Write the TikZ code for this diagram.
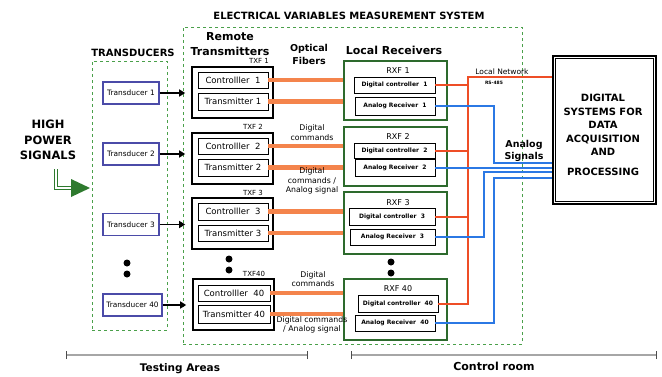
\documentclass[tikz,border=0pt]{standalone}
\usepackage{fontspec}
\setmainfont{DejaVu Sans}
\usetikzlibrary{arrows.meta}
\definecolor{fib}{HTML}{F4844C}
\definecolor{redl}{HTML}{EE4E26}
\definecolor{bluel}{HTML}{2B78E4}
\definecolor{rxg}{HTML}{2D6A2D}
\definecolor{dashg}{HTML}{4AA04A}
\definecolor{tdb}{HTML}{4B4BA8}
\definecolor{garr}{HTML}{2E7A2E}
\tikzset{
  dashbox/.style={draw=dashg, dashed, line width=0.7pt, inner sep=0pt},
  tdcbox/.style={draw=tdb, line width=1.2pt, inner sep=0pt, font=\fontsize{7.4}{8}\selectfont},
  txfbox/.style={draw, line width=1.6pt, inner sep=0pt},
  tinner/.style={draw, line width=0.6pt, inner sep=0pt, font=\fontsize{8.5}{9}\selectfont},
  rxfbox/.style={draw=rxg, line width=1.5pt, inner sep=0pt},
  rinner/.style={draw, line width=0.6pt, inner sep=0pt, font=\bfseries\fontsize{6}{7}\selectfont},
  fiber/.style={draw=fib, line width=4.5pt},
  redline/.style={draw=redl, line width=1.4pt},
  blueline/.style={draw=bluel, line width=1.4pt},
  tarrow/.style={draw, line width=1.4pt, -{Triangle[length=6pt,width=7pt]}, shorten >=6pt},
  lbl/.style={font=\fontsize{7}{8}\selectfont, inner sep=0pt},
  fl/.style={font=\fontsize{7.8}{9.5}\selectfont, align=center, inner sep=0pt},
  hd/.style={font=\bfseries\fontsize{11}{15}\selectfont, align=center, inner sep=0pt},
  barl/.style={draw=gray!70, line width=1.6pt},
  tickl/.style={draw=black!70, line width=0.8pt},
  dot/.style={fill=black}
}
\begin{document}
\begin{tikzpicture}[x=1pt,y=-1pt]
\useasboundingbox[fill=white] (0,0) rectangle (662,376);

% title
\node[font=\bfseries\fontsize{10}{12}\selectfont, inner sep=0pt] (title) at (349,16) {ELECTRICAL VARIABLES MEASUREMENT SYSTEM};

% dashed regions
\node[dashbox, minimum width=339, minimum height=317] (ems) at (352.5,185.5) {};
\node[dashbox, minimum width=75, minimum height=269] (tdbox) at (129.5,195.5) {};

% headings
\node[font=\bfseries\fontsize{10}{12}\selectfont, inner sep=0pt] (thd) at (133,53) {TRANSDUCERS};
\node[hd] (rthd) at (230,44) {Remote\\Transmitters};
\node[hd, font=\bfseries\fontsize{9.5}{13}\selectfont] (ofhd) at (309,54.5) {Optical\\Fibers};
\node[hd] (lrhd) at (394,50) {Local Receivers};
\node[hd, font=\bfseries\fontsize{11.5}{15.5}\selectfont] (hps) at (48,140) {HIGH\\POWER\\SIGNALS};

% transducers
\node[tdcbox, minimum width=56, minimum height=22] (td1) at (131,93) {Transducer 1};
\node[tdcbox, minimum width=56, minimum height=22] (td2) at (131,154) {Transducer 2};
\node[tdcbox, minimum width=56, minimum height=22] (td3) at (131,224.5) {Transducer 3};
\node[tdcbox, minimum width=59, minimum height=22] (td40) at (132.5,305) {Transducer 40};

% remote transmitters
\node[txfbox, minimum width=81, minimum height=51] (tx1) at (232.5,92.5) {};
\node[tinner, minimum width=70, minimum height=16] (c1) at (233,80) {Controlller\ \ 1};
\node[tinner, minimum width=70, minimum height=17] (t1) at (233,101.5) {Transmitter 1};
\node[lbl] (tl1) at (259,61) {TXF 1};

\node[txfbox, minimum width=81, minimum height=51] (tx2) at (232.5,158.5) {};
\node[tinner, minimum width=70, minimum height=16] (c2) at (233,146) {Controlller\ \ 2};
\node[tinner, minimum width=70, minimum height=17] (t2) at (233,167.5) {Transmitter 2};
\node[lbl] (tl2) at (253,127) {TXF 2};

\node[txfbox, minimum width=81, minimum height=51] (tx3) at (232.5,223.5) {};
\node[tinner, minimum width=70, minimum height=17] (c3) at (233,211.5) {Controlller\ \ 3};
\node[tinner, minimum width=70, minimum height=16] (t3) at (233,233) {Transmitter 3};
\node[lbl] (tl3) at (253,193) {TXF 3};

\node[txfbox, minimum width=81, minimum height=51] (tx40) at (233.5,304.5) {};
\node[tinner, minimum width=72, minimum height=16] (c40) at (234,293) {Controlller\ \ 40};
\node[tinner, minimum width=72, minimum height=18] (t40) at (234,314) {Transmitter 40};
\node[lbl] (tl40) at (254,274) {TXF40};

% local receivers
\node[rxfbox, minimum width=103, minimum height=59] (r1) at (395.5,90.5) {};
\node[lbl, font=\fontsize{8}{9}\selectfont] (rl1) at (398,71) {RXF 1};
\node[rinner, minimum width=81, minimum height=16] (d1) at (394.5,85) {Digital controller\ \ 1};
\node[rinner, minimum width=80, minimum height=18] (a1) at (395,106) {Analog Receiver\ \ 1};

\node[rxfbox, minimum width=103, minimum height=59] (r2) at (395.5,156.5) {};
\node[lbl, font=\fontsize{8}{9}\selectfont] (rl2) at (398,137) {RXF 2};
\node[rinner, minimum width=81, minimum height=15] (d2) at (394.5,151) {Digital controller\ \ 2};
\node[rinner, minimum width=80, minimum height=17] (a2) at (395,168) {Analog Receiver\ \ 2};

\node[rxfbox, minimum width=103, minimum height=62] (r3) at (395.5,223) {};
\node[lbl, font=\fontsize{8}{9}\selectfont] (rl3) at (398,203) {RXF 3};
\node[rinner, minimum width=86, minimum height=17] (d3) at (392,217) {Digital controller\ \ 3};
\node[rinner, minimum width=85, minimum height=16] (a3) at (392.5,237) {Analog Receiver\ \ 3};

\node[rxfbox, minimum width=103, minimum height=61] (r40) at (395.5,309.5) {};
\node[lbl, font=\fontsize{8}{9}\selectfont] (rl40) at (398,289) {RXF 40};
\node[rinner, minimum width=80, minimum height=17] (d40) at (398,304) {Digital controller\ \ 40};
\node[rinner, minimum width=80, minimum height=16] (a40) at (395,323) {Analog Receiver\ \ 40};

% digital systems box
\node[draw, line width=1.6pt, minimum width=103, minimum height=148, inner sep=0pt] (ds) at (604.5,130) {};
\draw[line width=0.7pt] ([shift={(3.5,3.5)}]ds.north west) rectangle ([shift={(-3.5,-3.5)}]ds.south east);
\node[font=\bfseries\fontsize{10}{13.5}\selectfont, align=center, inner sep=0pt] (dstxt) at (603,135) {DIGITAL\\SYSTEMS FOR\\DATA\\ACQUISITION\\AND\\[6.5pt]PROCESSING};

% transducer arrows
\draw[tarrow] (td1.east) -- (td1.east -| tx1.west);
\draw[tarrow] (td2.east) -- (td2.east -| tx2.west);
\draw[tarrow] (td3.east) -- (td3.east -| tx3.west);
\draw[tarrow] (td40.east) -- (td40.east -| tx40.west);

% fibers
\foreach \c/\t/\r in {c1/t1/r1,c2/t2/r2,c3/t3/r3,c40/t40/r40}{
  \draw[fiber] (\c.east) -- (\c.east -| \r.west);
  \draw[fiber] (\t.east) -- (\t.east -| \r.west);
}

% fiber labels
\node[fl] (fl2a) at (312,132.5) {Digital\\commands};
\node[fl] (fl2b) at (312,181) {Digital\\commands /\\Analog signal};
\node[fl] (fl40a) at (313,279) {Digital\\commands};
\node[fl] (fl40b) at (312,325) {Digital commands\\/ Analog signal};

% local network bus
\coordinate (bt) at (468,77);
\draw[redline] (d1.east) -- (d1.east -| bt);
\draw[redline] (d2.east) -- (d2.east -| bt);
\draw[redline] (d3.east) -- (d3.east -| bt);
\draw[redline] (d40.east) -- (d40.east -| bt) -- (bt) -- (bt -| ds.west);
\node[font=\fontsize{7.5}{9}\selectfont, inner sep=0pt] (lnet) at (502,72) {Local Network};
\node[font=\bfseries\fontsize{4.5}{5}\selectfont, inner sep=0pt] (rs) at (494,83) {RS-485};

% analog signals
\coordinate (b1) at (494,163);
\coordinate (b3) at (484,172);
\coordinate (b4) at (494,178);
\draw[blueline] (a1.east) -| (b1) -- (b1 -| ds.west);
\draw[blueline] (a2.east) -- (a2.east -| ds.west);
\draw[blueline] (a3.east) -| (b3) -- (b3 -| ds.west);
\draw[blueline] (a40.east) -| (b4) -- (b4 -| ds.west);
\node[hd, font=\bfseries\fontsize{9.5}{12}\selectfont] (asig) at (524,151) {Analog\\Signals};

% dots
\fill[dot] (127,263) circle (3.5pt) (127,274) circle (3.5pt);
\fill[dot] (229,259) circle (3.5pt) (229,270) circle (3.5pt);
\fill[dot] (391,262) circle (3.5pt) (391,273) circle (3.5pt);

% green input arrow
\coordinate (g0) at (56,169);
\coordinate (g1) at (56,188);
\coordinate (g2) at (74,188);
\draw[draw=garr, line width=0.8pt, double distance=2.2pt] (g0) -- (g1) -- (g2);
\fill[garr] (71,179) -- (90,188) -- (71,197) -- cycle;

% bottom scales
\coordinate (ta0) at (66,355);
\coordinate (ta1) at (307,355);
\coordinate (cr0) at (351,355);
\coordinate (cr1) at (656,355);
\draw[barl] (ta0) -- (ta1);
\draw[barl] (cr0) -- (cr1);
\foreach \p in {ta0,ta1,cr0,cr1}{\draw[tickl] ([yshift=-4pt]\p) -- ([yshift=4pt]\p);}
\node[hd, font=\bfseries\fontsize{10.5}{12}\selectfont] (tarea) at (180,369) {Testing Areas};
\node[hd, font=\bfseries\fontsize{11}{12}\selectfont] (croom) at (494,366) {Control room};
\end{tikzpicture}
\end{document}
